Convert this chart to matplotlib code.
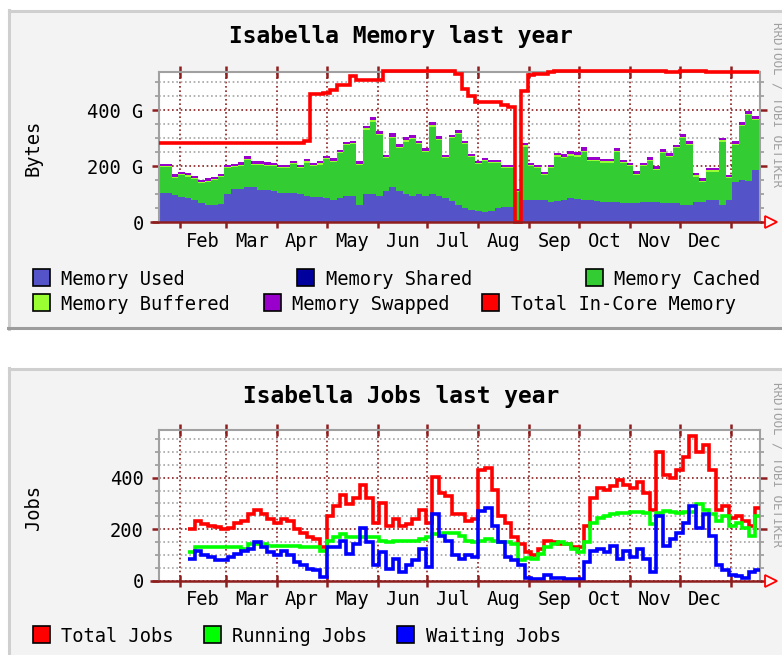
import numpy as np
import matplotlib
matplotlib.use("Agg")
import matplotlib.pyplot as plt
from matplotlib.patches import Rectangle
from matplotlib.lines import Line2D

plt.rcParams['font.family'] = ['DejaVu Sans Mono']

# ---------------- data ----------------
month_labels = ['Feb', 'Mar', 'Apr', 'May', 'Jun', 'Jul', 'Aug', 'Sep', 'Oct', 'Nov', 'Dec']
month_starts = [31, 59, 90, 120, 151, 181, 212, 243, 273, 304, 334, 365]   # day of year
x_range = (18.3, 382.8)

mem_days = np.arange(20, 381, 4)
mem_used = [103, 103, 98, 92, 88, 80, 70, 62, 62, 66,
            100, 119, 119, 125, 127, 115, 115, 110, 103, 103,
            103, 100, 95, 92, 90, 85, 80, 85, 95, 95,
            62, 100, 100, 95, 110, 127, 110, 100, 95, 100,
            95, 100, 95, 85, 75, 62, 50, 44, 40, 38,
            40, 50, 55, 56, 5, 80, 80, 80, 78, 74,
            76, 80, 86, 82, 80, 80, 76, 74, 74, 72,
            68, 68, 68, 74, 74, 74, 70, 68, 68, 62,
            62, 72, 74, 78, 80, 62, 80, 145, 151, 148,
            187]
mem_shared = [0] * 91
mem_cached = [93, 93, 60, 77, 75, 73, 69, 83, 89, 94,
              93, 77, 82, 97, 78, 90, 87, 89, 90, 90,
              104, 93, 118, 107, 116, 140, 136, 161, 179, 183,
              143, 230, 259, 217, 118, 173, 154, 188, 203, 178,
              157, 241, 199, 143, 225, 253, 228, 189, 168, 181,
              171, 161, 138, 137, 103, 190, 119, 113, 91, 119,
              158, 148, 152, 152, 170, 139, 143, 139, 139, 178,
              143, 131, 101, 125, 145, 113, 176, 166, 196, 238,
              214, 91, 71, 103, 101, 226, 77, 131, 192, 235,
              178]
mem_buffered = [4, 4, 4, 4, 4, 4, 4, 4, 4, 4,
                4, 5, 4, 4, 4, 4, 4, 4, 4, 4,
                4, 4, 4, 4, 5, 4, 4, 4, 4, 4,
                4, 5, 5, 4, 4, 4, 4, 5, 4, 4,
                4, 5, 4, 4, 4, 4, 4, 4, 4, 4,
                4, 4, 4, 4, 3, 5, 4, 4, 4, 4,
                5, 5, 5, 5, 5, 4, 4, 4, 4, 5,
                4, 4, 4, 4, 4, 4, 5, 4, 4, 4,
                4, 4, 4, 4, 4, 4, 4, 5, 5, 5,
                5]
mem_swapped = [8, 8, 9, 8, 8, 8, 9, 8, 8, 8,
               8, 8, 9, 10, 8, 8, 8, 8, 8, 8,
               8, 8, 9, 8, 8, 8, 8, 9, 10, 8,
               8, 10, 10, 8, 8, 13, 12, 10, 10, 9,
               8, 10, 9, 8, 9, 9, 8, 8, 8, 8,
               8, 8, 8, 8, 8, 9, 8, 8, 8, 8,
               9, 10, 10, 10, 12, 10, 10, 9, 9, 10,
               8, 10, 10, 10, 9, 9, 10, 9, 9, 10,
               9, 8, 8, 10, 10, 8, 8, 9, 9, 8,
               8]
mem_total = [284, 284, 284, 284, 284, 284, 284, 284, 284, 284,
             284, 284, 284, 284, 284, 284, 284, 284, 284, 284,
             284, 284, 290, 457, 457, 460, 472, 490, 490, 520,
             508, 508, 508, 508, 541, 541, 541, 541, 541, 541,
             541, 541, 541, 541, 541, 530, 475, 450, 430, 430,
             430, 430, 420, 410, 0, 470, 525, 530, 530, 535,
             541, 541, 541, 541, 541, 541, 541, 541, 541, 541,
             541, 541, 541, 541, 541, 541, 541, 535, 535, 541,
             541, 541, 541, 535, 535, 535, 535, 535, 535, 535,
             535]

job_days = np.arange(38, 383, 4)
jobs_total = [200, 232, 219, 213, 209, 200, 206, 225, 232, 257,
              276, 257, 238, 225, 241, 232, 200, 187, 168, 162,
              130, 251, 289, 334, 296, 321, 372, 321, 225, 302,
              213, 238, 213, 219, 238, 276, 225, 404, 340, 327,
              257, 257, 232, 238, 429, 436, 353, 251, 225, 168,
              143, 111, 98, 124, 155, 149, 143, 143, 130, 130,
              213, 321, 359, 353, 366, 391, 372, 359, 385, 340,
              276, 500, 410, 398, 429, 480, 560, 500, 525, 429,
              276, 289, 245, 251, 232, 213, 283]
jobs_running = [110, 130, 130, 130, 130, 130, 130, 130, 124, 143,
                143, 143, 136, 136, 136, 136, 136, 130, 130, 130,
                117, 155, 168, 181, 168, 168, 168, 168, 168, 155,
                149, 155, 155, 155, 155, 162, 168, 181, 187, 187,
                187, 175, 155, 149, 155, 162, 155, 149, 149, 143,
                80, 90, 85, 104, 130, 143, 149, 143, 124, 111,
                149, 225, 245, 251, 257, 261, 264, 266, 266, 261,
                219, 264, 271, 266, 261, 266, 266, 296, 276, 257,
                232, 251, 213, 225, 206, 175, 251]
jobs_waiting = [85, 117, 98, 92, 79, 79, 92, 104, 117, 124,
                149, 130, 111, 98, 117, 98, 73, 60, 47, 41,
                15, 130, 130, 155, 104, 143, 206, 149, 60, 111,
                47, 85, 34, 60, 79, 124, 54, 257, 175, 155,
                98, 85, 98, 92, 270, 283, 213, 149, 92, 79,
                60, 9, 6, 6, 22, 9, 11, 6, 6, 6,
                73, 117, 124, 111, 136, 85, 117, 92, 124, 85,
                34, 251, 136, 162, 187, 225, 289, 206, 257, 175,
                60, 41, 22, 19, 11, 34, 41]

# ---------------- layout helpers ----------------
W, H = 782, 655
fig = plt.figure(figsize=(W / 100, H / 100), dpi=100)
fig.patch.set_facecolor('white')


def fx(px):
    return px / W


def fy(py):
    return 1 - py / H


DARKRED = '#8e1e1e'
MINOR = '#a4a4a4'
FRAME = '#a0a0a0'
FS = 13.5


def panel(top, bottom):
    fig.add_artist(Rectangle((fx(8), fy(bottom)), fx(800) - fx(8), fy(top) - fy(bottom),
                             transform=fig.transFigure, facecolor='#f3f3f3',
                             edgecolor='none', zorder=0))
    fig.add_artist(Line2D([fx(9), fx(800)], [fy(top + 1), fy(top + 1)], transform=fig.transFigure,
                          color='#cfcfcf', lw=2.2, zorder=1))
    fig.add_artist(Line2D([fx(9), fx(9)], [fy(top), fy(bottom)], transform=fig.transFigure,
                          color='#cfcfcf', lw=2.2, zorder=1))
    fig.add_artist(Line2D([fx(8), fx(800)], [fy(bottom - 1), fy(bottom - 1)], transform=fig.transFigure,
                          color='#9c9c9c', lw=2.2, zorder=1))


def style(ax, ymax, yticks, ylabels, yminor):
    ax.set_facecolor('white')
    ax.set_xlim(*x_range)
    ax.set_ylim(0, ymax)
    for s in ['left', 'top', 'right']:
        ax.spines[s].set_color(FRAME)
        ax.spines[s].set_linewidth(1.5)
    ax.spines['bottom'].set_visible(False)
    ax.plot([-0.015, 1.004], [0, 0], transform=ax.transAxes, color=DARKRED, lw=1.8,
            clip_on=False, zorder=6, solid_capstyle='butt')
    ax.plot([1.018], [0], marker='>', ms=8.5, mfc='#fff4f4', mec='#ff0000', mew=1.3,
            transform=ax.transAxes, clip_on=False, zorder=7)
    starts = np.array(month_starts, dtype=float)
    mids = (starts[:-1] + starts[1:]) / 2
    ax.set_xticks(starts)
    ax.set_xticklabels([])
    ax.set_xticks(mids, minor=True)
    ax.set_xticklabels(month_labels, minor=True, fontsize=FS)
    ax.tick_params(axis='x', which='major', direction='inout', length=9, width=1.8,
                   color=DARKRED, top=True, bottom=True)
    ax.tick_params(axis='x', which='minor', length=0, pad=7)
    ax.set_yticks(yticks)
    ax.set_yticklabels(ylabels, fontsize=FS)
    ax.set_yticks(yminor, minor=True)
    ax.tick_params(axis='y', which='major', direction='out', length=5, width=1.8,
                   color=DARKRED, left=True, right=True, pad=6)
    ax.tick_params(axis='y', which='minor', direction='out', length=3, width=1.3,
                   color=FRAME, left=True, right=True)
    ax.grid(which='major', axis='both', color=DARKRED, linestyle=(0, (1, 1.6)), lw=1.2)
    ax.grid(which='minor', axis='y', color=MINOR, linestyle=(0, (1, 1.6)), lw=1.2)
    ax.set_axisbelow(True)


def legend_item(x, yc, color, text):
    fig.add_artist(Rectangle((fx(x), fy(yc + 8.5)), 17 / W, 17 / H, transform=fig.transFigure,
                             facecolor=color, edgecolor='black', lw=1.2, zorder=3))
    fig.text(fx(x + 29), fy(yc), text, fontsize=FS, ha='left', va='center_baseline', zorder=3)


# ---------------- memory panel ----------------
panel(10, 329)
ax1 = fig.add_axes([fx(159), fy(222.3), (760 - 159) / W, (222.3 - 72) / H])
ax1.set_zorder(2)
style(ax1, 536, [0, 200, 400], ['0', '200 G', '400 G'], [50, 100, 150, 250, 300, 350, 450, 500])

mem_edges = np.append(mem_days - 2, mem_days[-1] + 2)
layers = [(mem_used, '#5454c8'), (mem_shared, '#00009c'), (mem_cached, '#33cc33'),
          (mem_buffered, '#99ff33'), (mem_swapped, '#9900cc')]
base = np.zeros(len(mem_days))
for vals, col in layers:
    top = base + np.asarray(vals, dtype=float)
    ax1.stairs(top, mem_edges, baseline=base, fill=True, color=col, lw=0, zorder=2)
    base = top
ax1.stairs(mem_total, mem_edges, baseline=None, color='#ff0000', lw=2.6, zorder=5, clip_on=False)

fig.text(fx(401), fy(37), 'Isabella Memory last year', fontsize=16.5, fontweight='bold',
         ha='center', va='center')
fig.text(fx(33.5), fy(148), 'Bytes', fontsize=FS, rotation=90, ha='center', va='center')
fig.text(fx(777), fy(105), 'RRDTOOL / TOBI OETIKER', fontsize=9, rotation=-90, color='#a0a0a0',
         ha='center', va='center')

legend_item(32.5, 277, '#5454c8', 'Memory Used')
legend_item(297, 277, '#00009c', 'Memory Shared')
legend_item(585.5, 277, '#33cc33', 'Memory Cached')
legend_item(32.5, 302.5, '#99ff33', 'Memory Buffered')
legend_item(263.5, 302.5, '#9900cc', 'Memory Swapped')
legend_item(482, 302.5, '#ff0000', 'Total In-Core Memory')

# ---------------- jobs panel ----------------
panel(368, 680)
ax2 = fig.add_axes([fx(159), fy(580.7), (760 - 159) / W, (580.7 - 430) / H])
ax2.set_zorder(2)
style(ax2, 585, [0, 200, 400], ['0', '200', '400'], [50, 100, 150, 250, 300, 350, 450, 500, 550])

job_edges = np.append(job_days - 2, job_days[-1] + 2)
ax2.stairs(jobs_total, job_edges, baseline=None, color='#ff0000', lw=2.6, zorder=3)
ax2.stairs(jobs_running, job_edges, baseline=None, color='#00ff00', lw=2.6, zorder=4)
ax2.stairs(jobs_waiting, job_edges, baseline=None, color='#0000ff', lw=2.6, zorder=5)

fig.text(fx(401), fy(397), 'Isabella Jobs last year', fontsize=16.5, fontweight='bold',
         ha='center', va='center')
fig.text(fx(34), fy(507), 'Jobs', fontsize=FS, rotation=90, ha='center', va='center')
fig.text(fx(777), fy(464), 'RRDTOOL / TOBI OETIKER', fontsize=9, rotation=-90, color='#a0a0a0',
         ha='center', va='center')

legend_item(32.5, 634.5, '#ff0000', 'Total Jobs')
legend_item(203.5, 634.5, '#00ff00', 'Running Jobs')
legend_item(397, 634.5, '#0000ff', 'Waiting Jobs')

fig.savefig('out.png', dpi=100, facecolor='white')
